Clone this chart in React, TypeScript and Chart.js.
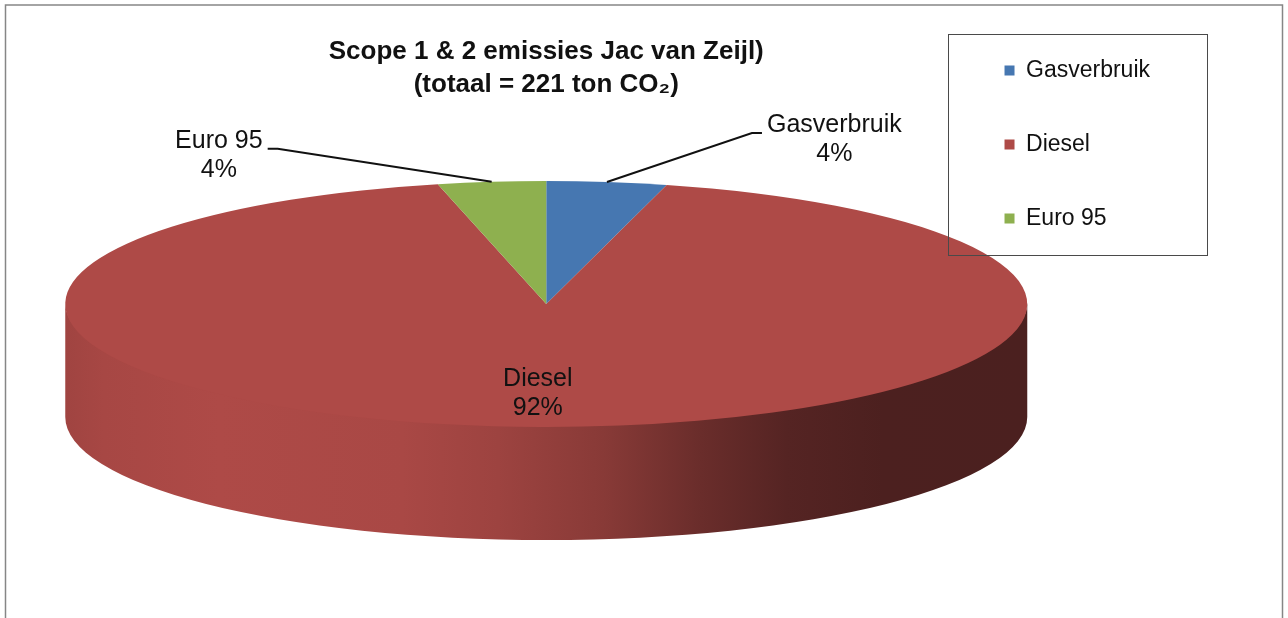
import React, { useEffect, useRef } from 'react';
import { Chart, registerables } from 'chart.js';

Chart.register(...registerables);

// ---- data ----
const categories = ['Gasverbruik', 'Diesel', 'Euro 95'];
const emissions = [8.9, 204.1, 8.0]; // ton CO2, total 221
const titleLines = ['Scope 1 & 2 emissies Jac van Zeijl)', '(totaal = 221 ton CO₂)'];

// ---- styles / layout ----
const sliceColors = ['#4677B1', '#AE4A47', '#8EB04F'];
const FONT = '"Liberation Sans", Arial, Helvetica, sans-serif';
const PIE = { cy: 304, rx: 481, ry: 123, depth: 113 };
const SIDE_SHADE: [number, number][] = [
  [0, 0.92], [0.04, 0.96], [0.16, 1.0], [0.35, 0.97], [0.45, 0.9],
  [0.56, 0.78], [0.66, 0.61], [0.75, 0.49], [0.85, 0.435], [1, 0.43],
];
const LEADERS: Record<number, { dx: number; dy: number }> = {
  0: { dx: 145, dy: -49 },
  2: { dx: -214, dy: -33 },
};
const LEGEND_PAD = 51;
const LEGEND_FONT = 23;
const LABEL_FONT = 25;
const LINE_GAP = 29;

function shade(hex: string, f: number) {
  const n = parseInt(hex.slice(1), 16);
  const c = (v: number) => Math.max(0, Math.min(255, Math.round(v * f)));
  return `rgb(${c((n >> 16) & 255)},${c((n >> 8) & 255)},${c(n & 255)})`;
}

const pie3d = {
  id: 'pie3d',
  beforeDraw(chart: any) {
    const ctx = chart.ctx;
    ctx.save();
    ctx.fillStyle = '#ffffff';
    ctx.fillRect(0, 0, chart.width, chart.height);
    ctx.strokeStyle = '#868686';
    ctx.lineWidth = 1.5;
    ctx.strokeRect(5.5, 5, chart.width - 11, chart.height + 100);
    ctx.restore();
  },
  beforeDatasetsDraw(chart: any) {
    const ctx = chart.ctx;
    const arcs = chart.getDatasetMeta(0).data;
    if (!arcs.length) return;
    const { x, y, outerRadius } = arcs[0];
    const cx = x, cy = PIE.cy, rx = PIE.rx, ry = PIE.ry, d = PIE.depth;
    arcs.forEach((arc: any, i: number) => {
      const s = arc.startAngle, e = arc.endAngle;
      for (const base of [-2 * Math.PI, 0, 2 * Math.PI]) {
        const a0 = Math.max(s, base), a1 = Math.min(e, base + Math.PI);
        if (a1 <= a0) continue;
        ctx.beginPath();
        ctx.ellipse(cx, cy + d, rx, ry, 0, a0, a1, false);
        ctx.ellipse(cx, cy - 1.5, rx, ry, 0, a1, a0, true);
        ctx.closePath();
        const g = ctx.createLinearGradient(cx - rx, 0, cx + rx, 0);
        SIDE_SHADE.forEach(([t, f]) => g.addColorStop(t, shade(sliceColors[i], f)));
        ctx.fillStyle = g;
        ctx.fill();
      }
    });
    ctx.save();
    ctx.translate(cx, cy);
    ctx.scale(rx / outerRadius, ry / outerRadius);
    ctx.translate(-x, -y);
  },
  afterDatasetsDraw(chart: any) {
    const ctx = chart.ctx;
    ctx.restore();
    const arcs = chart.getDatasetMeta(0).data;
    if (!arcs.length) return;
    const cx = arcs[0].x, cy = PIE.cy, rx = PIE.rx, ry = PIE.ry;
    const total = emissions.reduce((a, b) => a + b, 0);
    ctx.save();
    ctx.font = `${LABEL_FONT}px ${FONT}`;
    ctx.fillStyle = '#111';
    ctx.strokeStyle = '#111';
    ctx.lineWidth = 2;
    ctx.textBaseline = 'middle';
    ctx.textAlign = 'center';
    arcs.forEach((arc: any, i: number) => {
      const mid = (arc.startAngle + arc.endAngle) / 2;
      const frac = emissions[i] / total;
      const lines = [categories[i], `${Math.round(frac * 100)}%`];
      if (frac > 0.1 || !LEADERS[i]) {
        const lx = cx + 0.72 * rx * Math.cos(mid);
        const ly = cy + 0.72 * ry * Math.sin(mid);
        ctx.fillText(lines[0], lx - 4, ly - LINE_GAP / 2 + 1);
        ctx.fillText(lines[1], lx - 4, ly + LINE_GAP / 2 + 1);
      } else {
        const px = cx + rx * Math.cos(mid);
        const py = cy + ry * Math.sin(mid);
        const off = LEADERS[i];
        const ex = px + off.dx, ey = py + off.dy;
        const dir = Math.sign(off.dx);
        const hx = ex + dir * 10;
        ctx.beginPath();
        ctx.moveTo(px, py);
        ctx.lineTo(ex, ey);
        ctx.lineTo(hx, ey);
        ctx.stroke();
        const w = Math.max(...lines.map((l) => ctx.measureText(l).width));
        const tx = hx + dir * (5 + w / 2);
        ctx.fillText(lines[0], tx, ey - 7.5);
        ctx.fillText(lines[1], tx, ey - 7.5 + LINE_GAP);
      }
    });
    ctx.restore();
  },
  afterDraw(chart: any) {
    const lg = chart.legend;
    if (!lg) return;
    const ctx = chart.ctx;
    ctx.save();
    ctx.font = `${LEGEND_FONT}px ${FONT}`;
    const tw = Math.max(...categories.map((c) => ctx.measureText(c).width));
    const x0 = lg.left + LEGEND_PAD;
    const y0 = lg.top + LEGEND_PAD;
    const cw = 10 + LEGEND_FONT / 2 + tw;
    const n = categories.length;
    const ch = n * LEGEND_FONT + (n - 1) * LEGEND_PAD;
    ctx.strokeStyle = '#4a4a4a';
    ctx.lineWidth = 1;
    ctx.strokeRect(Math.round(x0 - 57) + 0.5, Math.round(y0 - 25) + 0.5, Math.round(cw + 114), Math.round(ch + 50));
    ctx.restore();
  },
};

export default function App() {
  const ref = useRef<HTMLCanvasElement | null>(null);
  useEffect(() => {
    if (!ref.current) return;
    const chart = new Chart(ref.current, {
      type: 'pie',
      data: {
        labels: categories,
        datasets: [
          {
            data: emissions,
            backgroundColor: sliceColors,
            borderWidth: 0,
            clip: false as any,
          },
        ],
      },
      options: {
        responsive: false,
        animation: false,
        events: [],
        layout: { padding: { top: 8, left: 139, right: 128, bottom: 0 } },
        plugins: {
          tooltip: { enabled: false },
          title: {
            display: true,
            text: titleLines,
            fullSize: false,
            color: '#111',
            font: { family: FONT, size: 26, weight: 'bold', lineHeight: 1.27 },
            padding: { top: 27.5, bottom: 10 },
          },
          legend: {
            display: true,
            position: 'right',
            align: 'start',
            fullSize: true,
            labels: {
              boxWidth: 10,
              boxHeight: 10,
              padding: LEGEND_PAD,
              color: '#111',
              font: { family: FONT, size: LEGEND_FONT },
            },
          },
        },
      },
      plugins: [pie3d],
    });
    return () => chart.destroy();
  }, []);
  return (
    <div style={{ position: 'fixed', left: 0, top: 0, width: 1288, height: 618, background: '#fff', overflow: 'hidden' }}>
      <canvas ref={ref} width={1288} height={618} style={{ display: 'block', width: '1288px', height: '618px' }} />
    </div>
  );
}
